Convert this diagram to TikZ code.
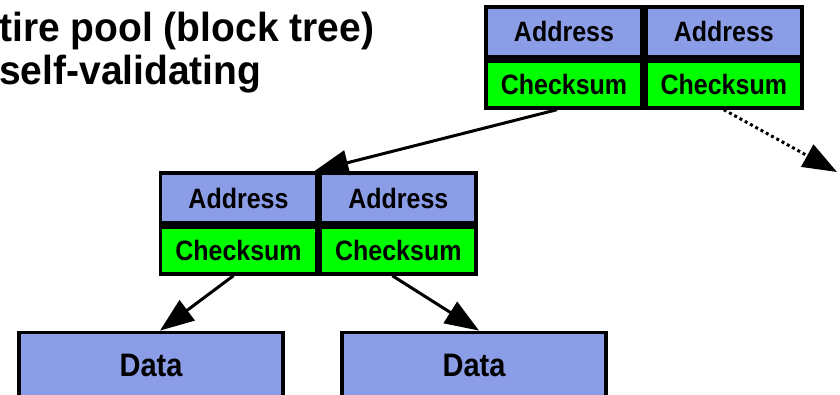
\documentclass[tikz,border=0pt]{standalone}
\usepackage{fontspec}
\usepackage{graphicx}
\setmainfont{Liberation Sans}
\usetikzlibrary{positioning,arrows.meta}
\definecolor{addrblue}{RGB}{139,157,230}
\definecolor{sumgreen}{RGB}{0,255,0}
\newcommand{\tall}[1]{\scalebox{1}[1.12]{#1}}
\begin{document}
\begin{tikzpicture}[x=1pt, y=1pt, font=\bfseries,
	cell/.style = {draw, line width=3.8pt, minimum width=156pt, inner sep=0pt, font=\fontsize{25}{25}\selectfont\bfseries},
	addr/.style = {cell, fill=addrblue, minimum height=50pt},
	sum/.style = {cell, fill=sumgreen, minimum height=47pt},
	data/.style = {draw, line width=3.8pt, fill=addrblue, minimum width=264pt, minimum height=65pt, font=\fontsize{29}{29}\selectfont\bfseries},
	ptr/.style = {line width=3pt, -{Triangle[length=34pt, width=25pt]}}]
	\useasboundingbox (0,0) rectangle (840,395);
	% title
	\node[anchor=base west, font=\fontsize{39}{43}\selectfont\bfseries, inner sep=0pt] (title1) at (-1,353) {\scalebox{1}[1.04]{tire pool (block tree)}};
	\node[anchor=base west, font=\fontsize{39}{43}\selectfont\bfseries, inner sep=0pt] (title2) at (-1,310) {\scalebox{1}[1.04]{self-validating}};
	% top block
	\node[addr] (ta1) at (564,363) {\tall{Address}};
	\node[addr, right=0pt of ta1] (ta2) {\tall{Address}};
	\node[sum, below=0pt of ta1] (tc1) {\tall{Checksum}};
	\node[sum, below=0pt of ta2] (tc2) {\tall{Checksum}};
	% middle block
	\node[addr] (ma1) at (238.5,197) {\tall{Address}};
	\node[addr, right=0pt of ma1] (ma2) {\tall{Address}};
	\node[sum, below=0pt of ma1] (mc1) {\tall{Checksum}};
	\node[sum, below=0pt of ma2] (mc2) {\tall{Checksum}};
	% data blocks
	\node[data] (dl) at (151,30) {\tall{Data}};
	\node[data] (dr) at (474,30) {\tall{Data}};
	\coordinate (nxt) at (837,223);
	% pointers
	\draw[ptr] ([xshift=-7pt]tc1.south) -- ([xshift=-4pt]ma2.north west);
	\draw[ptr, dash pattern=on 3pt off 3pt] (tc2.south) -- (nxt);
	\draw[ptr] ([xshift=-5pt]mc1.south) -- ([xshift=9pt]dl.north);
	\draw[ptr] ([xshift=-6pt]mc2.south) -- ([xshift=5pt]dr.north);
\end{tikzpicture}
\end{document}
